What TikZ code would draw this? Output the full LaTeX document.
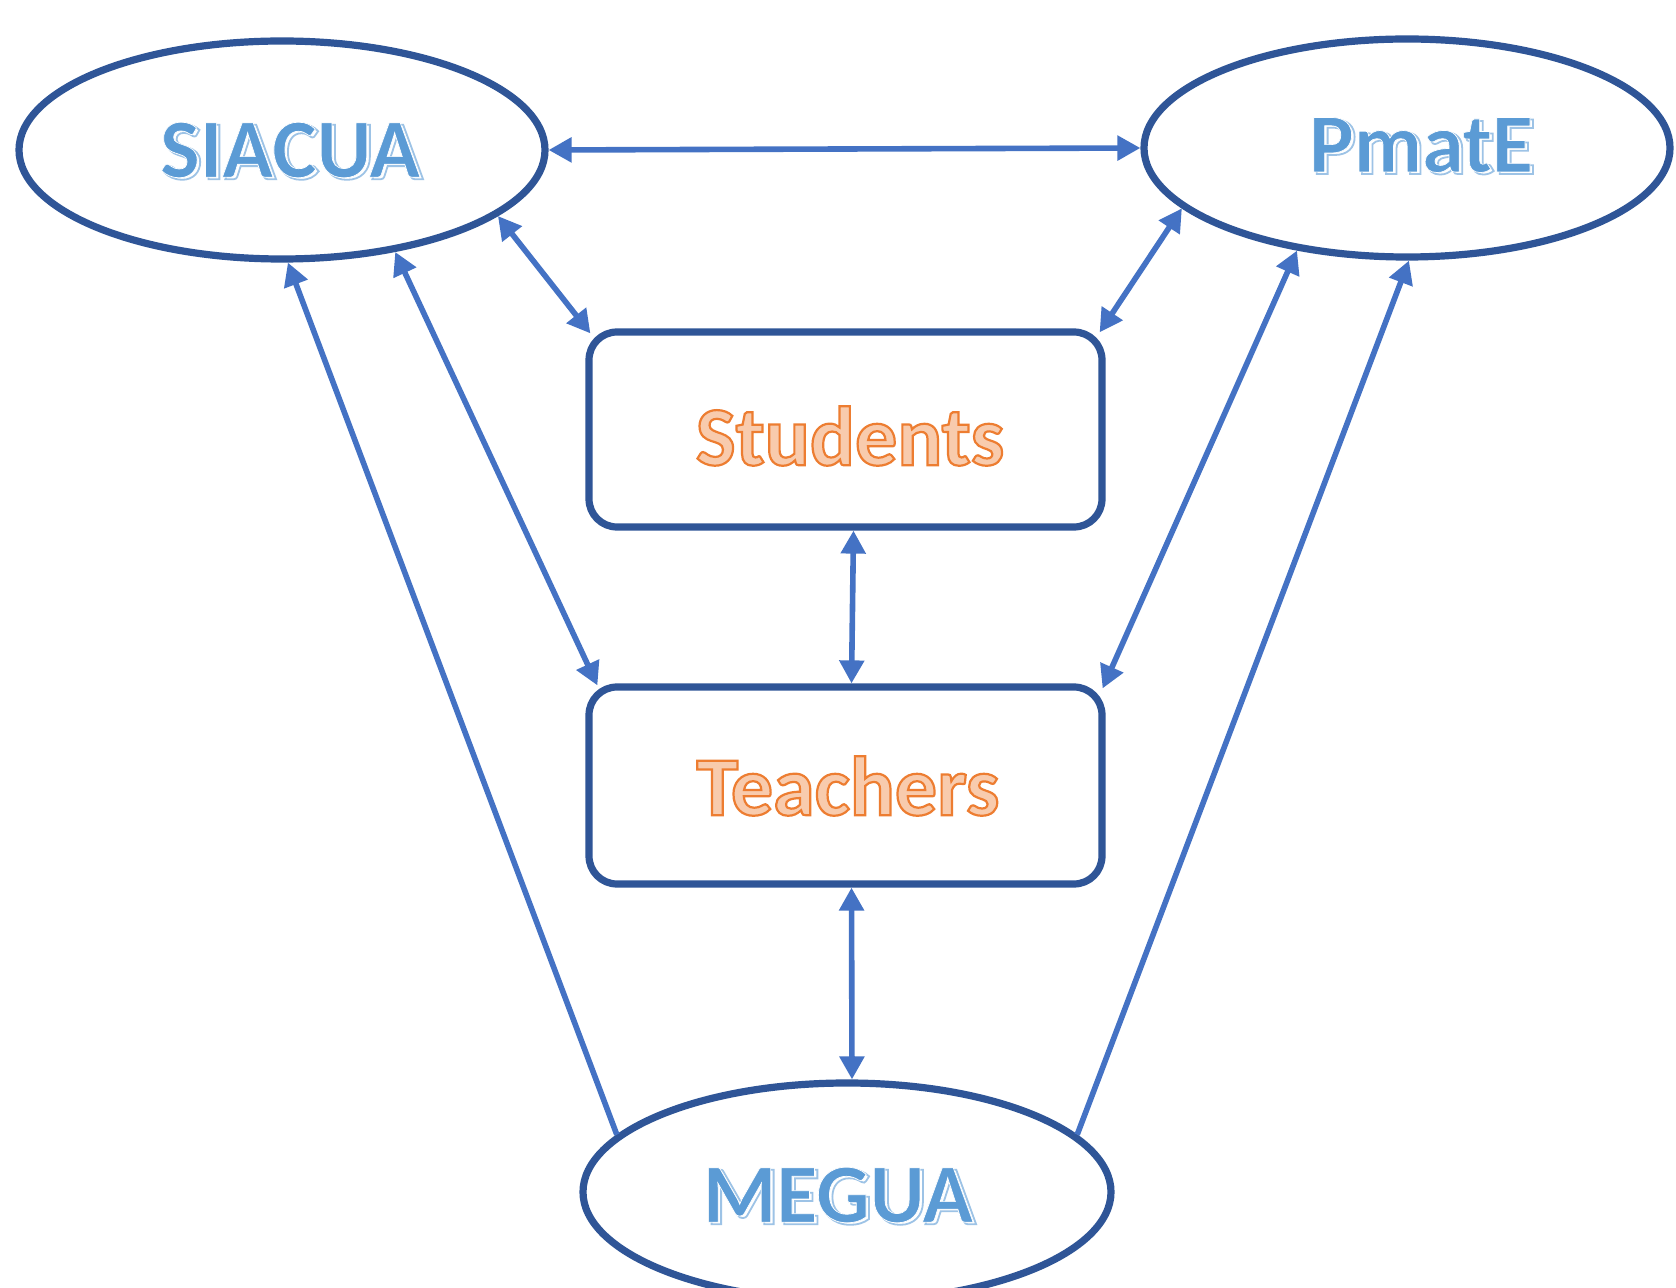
\documentclass[tikz,border=0pt]{standalone}
\usepackage{fontspec}
\setmainfont{Carlito}
\usetikzlibrary{arrows.meta,calc,shapes.geometric}
\definecolor{bordercol}{HTML}{2F5597}
\definecolor{conncol}{HTML}{4472C4}
\definecolor{tblue}{HTML}{5B9BD5}
\definecolor{ostroke}{HTML}{ED7D31}
\definecolor{ofill}{HTML}{F8CBAD}
% raw PDF text rendering modes (xdvipdfmx)
\newcommand\orangetxt[1]{\special{pdf:literal direct 2 Tr 1.1 w 0.929 0.490 0.192 RG 0.973 0.796 0.678 rg}#1\special{pdf:literal direct 0 Tr}}
\newcommand\bluebacktxt[1]{\special{pdf:literal direct 2 Tr 0.9 w 0.616 0.765 0.902 RG 1 1 1 rg}#1\special{pdf:literal direct 0 Tr}}
\newcommand\bluefronttxt[1]{\special{pdf:literal direct 2 Tr 0.35 w 1 1 1 RG 0.357 0.608 0.835 rg}#1\special{pdf:literal direct 0 Tr}}
\begin{document}
\begin{tikzpicture}[x=0.5pt,y=-0.5pt,
  ell/.style={draw=bordercol,line width=3.6pt,ellipse,minimum width=263pt,minimum height=109pt,inner sep=0pt},
  boxnode/.style={draw=bordercol,line width=3.6pt,rectangle,rounded corners=14pt,minimum width=256.5pt,minimum height=97.5pt,inner sep=0pt},
  lbl/.style={inner sep=0pt,text=tblue,font=\fontsize{42}{50}\selectfont\bfseries},
  olbl/.style={inner sep=0pt,text=ostroke,font=\fontsize{42}{50}\selectfont\bfseries},
  conntwo/.style={draw=conncol,line width=2.8pt,{Triangle[length=11.5pt,width=12pt]}-{Triangle[length=11.5pt,width=12pt]}},
  connone/.style={draw=conncol,line width=2.8pt,-{Triangle[length=11.5pt,width=12pt]}}
]
\useasboundingbox (0,0) rectangle (1676,1288);
\clip (0,0) rectangle (1676,1288);
\fill[white] (0,0) rectangle (1676,1288);

\node[ell] (siacua) at (282,150) {};
\node[ell] (pmate) at (1407,148) {};
\node[ell,minimum width=264pt] (megua) at (847,1192) {};
\node[boxnode] (students) at (845.5,429.5) {};
\node[boxnode,minimum height=98.5pt] (teachers) at (845.5,785.5) {};

\node[lbl] (siacuab) at (293,152) {\bluebacktxt{SIACUA}};
\node[lbl] (siacual) at (290,150) {\bluefronttxt{SIACUA}};
\node[lbl] (pmateb) at (1424,147) {\bluebacktxt{PmatE}};
\node[lbl] (pmatel) at (1421,145) {\bluefronttxt{PmatE}};
\node[lbl] (meguab) at (841,1197) {\bluebacktxt{MEGUA}};
\node[lbl] (megual) at (838,1195) {\bluefronttxt{MEGUA}};
\node[olbl] (studentsl) at (850,436) {\orangetxt{Students}};
\node[olbl] (teachersl) at (848,786) {\orangetxt{Teachers}};

\draw[conntwo] (siacua.east) -- (pmate.west);
\draw[conntwo] (siacua.-17) -- ($(students.north west)+(5,5)$);
\draw[conntwo] (pmate.-165.5) -- ($(students.north east)+(-6,4)$);
\draw[conntwo] (siacua.-42.6) -- ($(teachers.north west)+(12,2)$);
\draw[conntwo] (pmate.-137.5) -- ($(teachers.north east)+(-3,5)$);
\draw[connone] (megua.166.4) -- (siacua.-87);
\draw[connone] (megua.14.8) -- (pmate.-89.5);
\draw[conntwo] ($(students.south)+(8,0)$) -- ($(teachers.north)+(6,0)$);
\draw[conntwo] ($(teachers.south)+(6,0)$) -- ($(megua.north)+(5,0)$);
\end{tikzpicture}
\end{document}
